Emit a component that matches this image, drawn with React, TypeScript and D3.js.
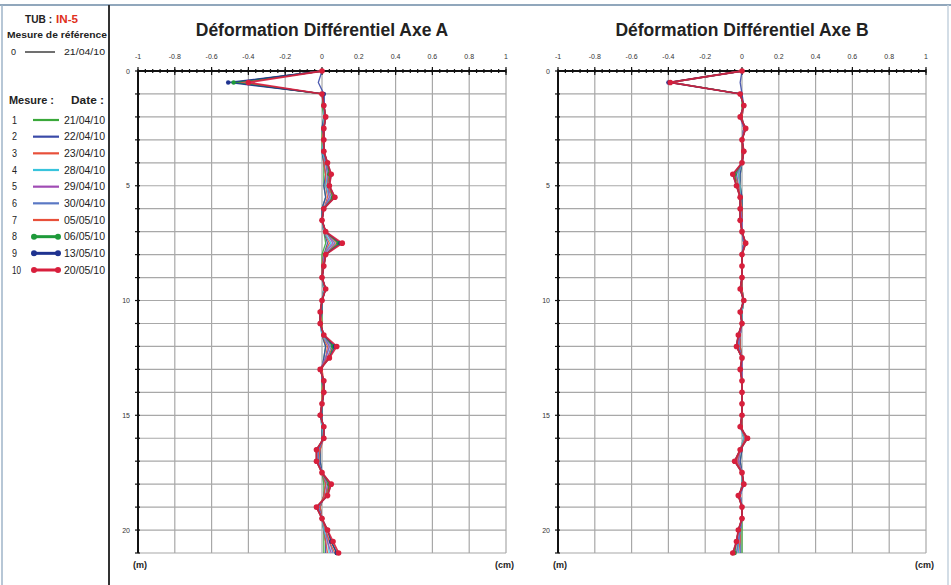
import React from "react";
import * as d3 from "d3";

const depths: number[] = d3.range(0, 21.01, 0.5);
const xTicks = [-1, -0.8, -0.6, -0.4, -0.2, 0, 0.2, 0.4, 0.6, 0.8, 1];
const yTicks = [0, 5, 10, 15, 20];
const dates = ["21/04/10", "22/04/10", "23/04/10", "28/04/10", "29/04/10", "30/04/10", "05/05/10", "06/05/10", "13/05/10", "20/05/10"];
const refDate = "21/04/10";
const colors = ["#3aa83a", "#3a4aa8", "#e8503a", "#38c4dc", "#a04cb4", "#5a78c4", "#e8503a", "#1e9a3a", "#1f3390", "#d81f3c"];
const withMarkers = [false, false, false, false, false, false, false, true, true, true];

const A1 = [0,-0.47,0.01,0.00,0.01,0.00,0.00,0.00,0.01,0.01, 0.01,0.02,0.00,0.00,0.01,0.02,0.00,0.00,0.00,0.01, 0.00,0.00,0.00,0.00,0.02,0.01,0.00,0.00,0.00,0.00, 0.00,0.00,0.00,-0.01,-0.01,0.00,0.01,0.01,-0.01,0.00, 0.01,0.01,0.01];
const A2 = [0,-0.02,0.01,0.01,0.01,0.00,0.01,0.00,0.01,0.02, 0.01,0.02,0.00,0.00,0.01,0.03,0.01,0.00,0.00,0.01, 0.00,0.00,-0.01,0.00,0.02,0.01,0.00,0.00,0.01,0.00, 0.00,0.00,0.00,-0.01,-0.01,0.00,0.02,0.01,-0.01,0.00, 0.01,0.02,0.02];
const A3 = [0,-0.46,0.00,0.01,0.01,0.01,0.00,0.01,0.01,0.02, 0.02,0.03,0.01,0.00,0.01,0.04,0.01,0.00,0.00,0.01, 0.00,-0.01,0.00,0.00,0.03,0.02,0.00,0.01,0.00,0.00, -0.01,0.00,0.01,-0.01,-0.02,0.00,0.02,0.01,-0.01,0.00, 0.01,0.02,0.03];
const A4 = [0,-0.45,0.01,0.01,0.01,0.01,0.01,0.00,0.02,0.03, 0.02,0.04,0.01,0.00,0.01,0.05,0.01,0.01,0.00,0.01, 0.00,-0.01,-0.01,0.00,0.04,0.02,-0.01,0.01,0.01,0.00, -0.01,0.00,0.01,-0.02,-0.02,0.00,0.03,0.02,-0.02,0.00, 0.01,0.03,0.04];
const A5 = [0,-0.44,0.01,0.01,0.02,0.01,0.01,0.01,0.02,0.03, 0.03,0.04,0.01,0.00,0.02,0.06,0.01,0.01,0.00,0.02, 0.00,-0.01,-0.01,0.01,0.04,0.02,-0.01,0.01,0.01,0.00, -0.01,0.01,0.01,-0.02,-0.02,0.00,0.03,0.02,-0.02,0.00, 0.02,0.03,0.05];
const A6 = [0,-0.43,0.00,0.01,0.02,0.01,0.01,0.01,0.02,0.04, 0.03,0.05,0.01,0.00,0.02,0.07,0.02,0.01,0.00,0.02, 0.00,-0.01,-0.01,0.01,0.05,0.03,-0.01,0.01,0.01,0.00, -0.01,0.01,0.01,-0.02,-0.02,0.00,0.04,0.02,-0.02,0.00, 0.02,0.04,0.06];
const A7 = [0,-0.45,0.00,0.01,0.02,0.01,0.01,0.01,0.03,0.04, 0.03,0.06,0.01,0.00,0.02,0.08,0.02,0.01,0.00,0.02, 0.00,-0.01,-0.01,0.01,0.06,0.03,-0.01,0.01,0.01,0.00, -0.01,0.01,0.01,-0.03,-0.03,0.00,0.04,0.02,-0.03,0.00, 0.02,0.04,0.07];
const A8 = [0,-0.48,0.00,0.01,0.02,0.01,0.01,0.01,0.03,0.04, 0.04,0.06,0.01,0.00,0.02,0.09,0.02,0.01,0.00,0.02, 0.00,-0.01,-0.01,0.01,0.06,0.04,-0.01,0.01,0.01,0.00, -0.01,0.01,0.01,-0.03,-0.03,0.00,0.04,0.03,-0.03,0.00, 0.03,0.05,0.08];
const A9 = [0,-0.51,0.01,0.01,0.02,0.01,0.01,0.01,0.03,0.05, 0.04,0.07,0.01,0.00,0.02,0.10,0.02,0.01,0.00,0.02, 0.00,-0.01,-0.01,0.01,0.07,0.04,-0.01,0.01,0.01,0.00, -0.01,0.01,0.01,-0.03,-0.03,0.00,0.05,0.03,-0.03,0.00, 0.03,0.05,0.08];
const A10 = [0,-0.40,0.00,0.01,0.02,0.01,0.01,0.01,0.03,0.05, 0.04,0.07,0.01,0.00,0.02,0.11,0.02,0.01,0.00,0.02, 0.00,-0.01,-0.01,0.01,0.08,0.04,-0.01,0.01,0.01,0.00, -0.01,0.01,0.01,-0.03,-0.03,0.00,0.05,0.03,-0.03,0.00, 0.03,0.06,0.09];

const B1 = [0,-0.39,0.00,0.00,0.00,0.01,0.00,0.00,0.00,-0.01, -0.01,0.00,0.00,0.00,0.00,0.01,0.00,0.00,0.00,0.00, 0.01,0.00,0.00,-0.01,-0.01,0.00,0.00,0.00,0.00,0.00, 0.00,0.00,0.01,0.00,-0.01,0.00,0.00,-0.01,0.00,0.00, 0.00,0.00,0.00];
const B2 = [0,-0.01,0.00,0.01,0.00,0.01,0.00,0.00,0.00,-0.01, -0.01,0.00,0.00,0.00,0.00,0.01,0.00,0.00,0.00,0.00, 0.01,0.00,0.00,-0.01,-0.01,0.00,0.00,0.00,0.00,0.00, 0.00,0.00,0.01,0.00,-0.01,0.00,0.00,-0.01,0.00,0.00, -0.01,-0.01,-0.01];
const B3 = [0,-0.38,-0.01,0.01,0.00,0.01,0.00,0.00,0.00,-0.02, -0.01,-0.01,0.00,0.00,0.00,0.01,0.00,0.00,0.00,0.00, 0.01,0.00,0.00,-0.01,-0.01,0.00,0.00,0.00,0.00,0.00, 0.00,0.00,0.01,-0.01,-0.02,0.00,0.00,-0.01,0.00,0.00, -0.01,-0.01,-0.02];
const B4 = [0,-0.39,-0.01,0.01,-0.01,0.01,0.00,0.01,0.00,-0.02, -0.01,-0.01,-0.01,0.00,0.00,0.01,0.00,0.00,0.00,-0.01, 0.01,0.00,0.00,-0.01,-0.02,0.00,0.00,0.00,0.00,0.00, 0.00,-0.01,0.01,-0.01,-0.02,0.00,0.00,-0.01,0.00,0.00, -0.01,-0.02,-0.02];
const B5 = [0,-0.38,-0.01,0.01,-0.01,0.01,0.00,0.01,0.00,-0.03, -0.02,-0.01,-0.01,0.00,0.00,0.01,0.00,0.00,0.00,-0.01, 0.01,-0.01,0.00,-0.01,-0.02,0.00,0.00,0.00,0.00,0.00, 0.00,-0.01,0.02,-0.01,-0.02,0.00,0.01,-0.01,0.00,0.00, -0.01,-0.02,-0.03];
const B6 = [0,-0.39,-0.01,0.01,-0.01,0.02,0.00,0.01,0.00,-0.03, -0.02,-0.01,-0.01,-0.01,0.00,0.01,0.00,0.00,0.00,-0.01, 0.01,-0.01,0.00,-0.02,-0.02,0.00,-0.01,0.00,0.00,0.00, 0.00,-0.01,0.02,-0.01,-0.03,0.00,0.01,-0.01,0.00,0.00, -0.01,-0.02,-0.03];
const B7 = [0,-0.40,-0.01,0.01,-0.01,0.02,0.00,0.01,0.00,-0.04, -0.02,-0.01,-0.01,-0.01,0.00,0.02,0.00,0.00,0.00,-0.01, 0.01,-0.01,0.00,-0.02,-0.03,0.00,-0.01,0.00,0.00,0.00, 0.00,-0.01,0.02,-0.01,-0.03,0.00,0.01,-0.02,0.00,0.00, -0.02,-0.03,-0.04];
const B8 = [0,-0.39,-0.01,0.01,-0.01,0.02,0.00,0.01,0.00,-0.04, -0.03,-0.01,-0.01,-0.01,0.00,0.02,0.00,0.00,0.00,-0.01, 0.01,-0.01,0.00,-0.02,-0.03,0.00,-0.01,0.00,0.00,0.00, 0.00,-0.01,0.03,-0.01,-0.04,0.00,0.01,-0.02,0.00,0.00, -0.02,-0.03,-0.04];
const B9 = [0,-0.40,-0.01,0.01,-0.01,0.02,0.00,0.01,0.00,-0.05, -0.03,-0.01,-0.01,-0.01,0.00,0.02,0.00,0.00,0.00,-0.01, 0.01,-0.01,0.00,-0.02,-0.03,0.00,-0.01,0.00,0.00,0.00, 0.00,-0.01,0.03,-0.01,-0.04,0.00,0.01,-0.02,0.00,0.00, -0.02,-0.03,-0.05];
const B10 = [0,-0.39,-0.01,0.01,-0.01,0.02,0.00,0.01,0.00,-0.05, -0.03,-0.01,-0.01,-0.01,0.00,0.02,0.00,0.00,0.00,-0.01, 0.01,-0.01,0.00,-0.02,-0.03,0.00,-0.01,0.00,0.00,0.00, 0.00,-0.01,0.03,-0.01,-0.04,0.00,0.01,-0.02,0.00,0.00, -0.02,-0.03,-0.05];

const seriesA = [A1, A2, A3, A4, A5, A6, A7, A8, A9, A10];
const seriesB = [B1, B2, B3, B4, B5, B6, B7, B8, B9, B10];

const FONT = "'Liberation Sans', Arial, sans-serif";

function Panel({ left, title, series }: { left: number; title: string; series: number[][] }) {
  const x = d3.scaleLinear().domain([-1, 1]).range([left, left + 368]);
  const y = d3.scaleLinear().domain([0, 21]).range([71, 553]);
  const minor = d3.range(-1, 1.0001, 0.04);
  const yMajor = d3.range(1, 21.5, 1);
  const line = d3.line<number>().x((v) => x(v)).y((_, i) => y(depths[i]));
  return (
    <g>
      <text x={x(0)} y={36} textAnchor="middle" fontFamily={FONT} fontWeight="bold" fontSize={17.5} fill="#222">{title}</text>
      {xTicks.map((t) => (
        <text key={"xl" + t} x={x(t)} y={59} textAnchor="middle" fontFamily={FONT} fontSize={7} fill="#333">{String(t)}</text>
      ))}
      {xTicks.filter((t) => t > -1).map((t) => (
        <line key={"gx" + t} x1={x(t)} x2={x(t)} y1={y(0)} y2={y(21)} stroke="#a8a8a8" strokeWidth={1.2} />
      ))}
      {yMajor.map((d) => (
        <line key={"gy" + d} x1={x(-1)} x2={x(1)} y1={y(d)} y2={y(d)} stroke="#a8a8a8" strokeWidth={1.2} />
      ))}
      <line x1={x(-1)} x2={x(-1)} y1={y(0)} y2={y(21)} stroke="#111" strokeWidth={2} />
      <line x1={x(-1)} x2={x(1)} y1={y(0)} y2={y(0)} stroke="#111" strokeWidth={2} />
      {minor.map((t, i) => (
        <line key={"mt" + i} x1={x(t)} x2={x(t)} y1={y(0) - 2} y2={y(0) + 2} stroke="#111" strokeWidth={1.2} />
      ))}
      {xTicks.map((t) => (
        <line key={"Mt" + t} x1={x(t)} x2={x(t)} y1={y(0) - 4} y2={y(0) + 4} stroke="#111" strokeWidth={1.2} />
      ))}
      {[0, ...yMajor].map((d) => (
        <line key={"yt" + d} x1={x(-1) - 3} x2={x(-1) + 2} y1={y(d)} y2={y(d)} stroke="#111" strokeWidth={1.2} />
      ))}
      {yTicks.map((d) => (
        <text key={"yl" + d} x={x(-1) - 8} y={y(d) + 2.5} textAnchor="end" fontFamily={FONT} fontSize={7} fill="#333">{String(d)}</text>
      ))}
      {series.map((s, k) => (
        <path key={"s" + k} d={line(s) || ""} fill="none" stroke={colors[k]} strokeWidth={k === 9 ? 1.8 : 1.3} strokeOpacity={0.9} />
      ))}
      {series.map((s, k) =>
        withMarkers[k]
          ? s.map((v, i) => (
              <circle key={"m" + k + "-" + i} cx={x(v)} cy={y(depths[i])} r={k === 9 ? 2.8 : 2.2} fill={colors[k]} />
            ))
          : null
      )}
      <text x={x(-1) - 5} y={568} fontFamily={FONT} fontWeight="bold" fontSize={9} fill="#222">(m)</text>
      <text x={x(1) + 8} y={568} textAnchor="end" fontFamily={FONT} fontWeight="bold" fontSize={9} fill="#222">(cm)</text>
    </g>
  );
}

function Legend() {
  const rowY = d3.scaleLinear().domain([0, 9]).range([120, 270]);
  return (
    <g fontFamily={FONT} fill="#222">
      <text x={25} y={23} fontWeight="bold" fontSize={11} textLength={27} lengthAdjust="spacingAndGlyphs">TUB :</text>
      <text x={56} y={23} fontWeight="bold" fontSize={11} fill="#e03020" textLength={22} lengthAdjust="spacingAndGlyphs">IN-5</text>
      <text x={7} y={38} fontWeight="bold" fontSize={9.5} textLength={100} lengthAdjust="spacingAndGlyphs">Mesure de référence</text>
      <text x={11} y={55} fontSize={9}>0</text>
      <line x1={25} x2={55} y1={52} y2={52} stroke="#222" strokeWidth={1.3} />
      <text x={64} y={55} fontSize={9.5} textLength={41} lengthAdjust="spacingAndGlyphs">{refDate}</text>
      <text x={9} y={104} fontWeight="bold" fontSize={10} textLength={45} lengthAdjust="spacingAndGlyphs">Mesure :</text>
      <text x={71} y={104} fontWeight="bold" fontSize={10} textLength={33} lengthAdjust="spacingAndGlyphs">Date :</text>
      {dates.map((dt, i) => (
        <g key={"lg" + i}>
          <text x={12} y={rowY(i) + 3.5} fontSize={10} textLength={i === 9 ? 9 : 5} lengthAdjust="spacingAndGlyphs">{String(i + 1)}</text>
          <line x1={33} x2={59} y1={rowY(i)} y2={rowY(i)} stroke={colors[i]} strokeWidth={withMarkers[i] ? 3 : 2.2} />
          {withMarkers[i] ? (
            <>
              <circle cx={34} cy={rowY(i)} r={3} fill={colors[i]} />
              <circle cx={58} cy={rowY(i)} r={3} fill={colors[i]} />
            </>
          ) : null}
          <text x={64} y={rowY(i) + 3.5} fontSize={10} textLength={41} lengthAdjust="spacingAndGlyphs">{dt}</text>
        </g>
      ))}
    </g>
  );
}

export default function App() {
  return (
    <svg width={951} height={585} style={{ position: "absolute", left: 0, top: 0, background: "#fff" }}>
      <rect x={0} y={0} width={951} height={585} fill="#fff" />
      <line x1={0} x2={951} y1={5} y2={5} stroke="#6d8aa6" strokeWidth={1.5} />
      <line x1={2} x2={2} y1={5} y2={585} stroke="#9fb4c8" strokeWidth={1.5} />
      <line x1={948} x2={948} y1={5} y2={585} stroke="#c4d2de" strokeWidth={1.5} />
      <line x1={109} x2={109} y1={5} y2={585} stroke="#333" strokeWidth={2} />
      <Legend />
      <Panel left={138} title="Déformation Différentiel Axe A" series={seriesA} />
      <Panel left={558} title="Déformation Différentiel Axe B" series={seriesB} />
    </svg>
  );
}
